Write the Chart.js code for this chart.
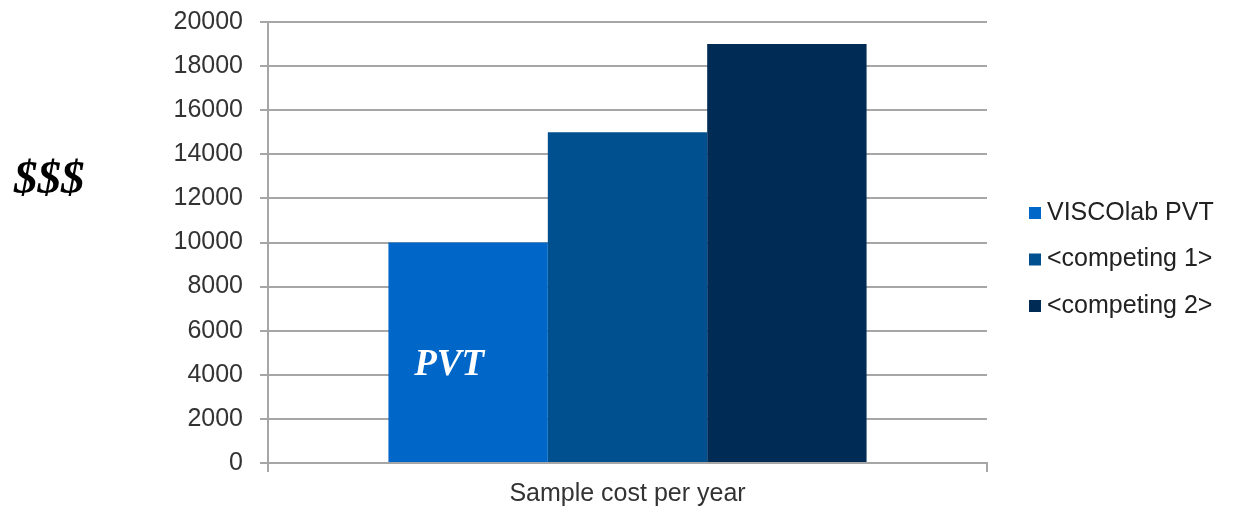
<!DOCTYPE html>
<html>
<head>
<meta charset="utf-8">
<script src="https://cdn.jsdelivr.net/npm/chart.js@4/dist/chart.umd.min.js"></script>
<style>
  html, body { margin: 0; padding: 0; background: #fff; }
  #wrap { width: 1237px; height: 506px; position: relative; }
</style>
</head>
<body>
<div id="wrap"><canvas id="c" width="1237" height="506"></canvas></div>
<script>
// Chart data
const categories = ['Sample cost per year'];
const seriesNames = ['VISCOlab PVT', '<competing 1>', '<competing 2>'];
const seriesValues = [[10000], [15000], [19000]];
const seriesColors = ['#0066c8', '#00508f', '#002b55'];
const yTicks = [0, 2000, 4000, 6000, 8000, 10000, 12000, 14000, 16000, 18000, 20000];

const axisFont = { family: '"Liberation Sans", Arial, sans-serif', size: 25, lineHeight: 1.1 };
const gridGray = '#a6a6a6';

// Legend on the right, side-panel annotations
const extras = {
  id: 'extras',
  afterDraw(chart) {
    const ctx = chart.ctx;
    ctx.save();
    // legend
    ctx.font = '25px "Liberation Sans", Arial, sans-serif';
    ctx.textBaseline = 'middle';
    ctx.textAlign = 'left';
    chart.data.datasets.forEach((ds, i) => {
      const y = 213 + i * 46.5;
      ctx.fillStyle = ds.backgroundColor;
      ctx.fillRect(1029, y - 6, 12, 12);
      ctx.fillStyle = '#222';
      ctx.fillText(ds.label, 1047, y);
    });
    // "$$$" beside the value axis
    ctx.font = 'italic bold 47px "Liberation Serif", "Times New Roman", serif';
    ctx.fillStyle = '#000';
    ctx.textBaseline = 'alphabetic';
    ctx.fillText('$$$', 14, 193);
    // label inside the first bar
    const bar = chart.getDatasetMeta(0).data[0];
    ctx.font = 'italic bold 37px "Liberation Serif", "Times New Roman", serif';
    ctx.fillStyle = '#fff';
    ctx.textAlign = 'center';
    ctx.fillText('PVT', bar.x - 19, 375);
    ctx.restore();
  }
};

new Chart(document.getElementById('c'), {
  type: 'bar',
  data: {
    labels: categories,
    datasets: seriesNames.map((name, i) => ({
      label: name,
      data: seriesValues[i],
      backgroundColor: seriesColors[i],
      borderWidth: 0,
      categoryPercentage: 0.665,
      barPercentage: 1.0
    }))
  },
  options: {
    responsive: false,
    animation: false,
    layout: { padding: { left: 0, right: 250, top: 22, bottom: 0 } },
    plugins: { legend: { display: false }, tooltip: { enabled: false } },
    scales: {
      x: {
        offset: true,
        afterFit(axis) { axis.height = 43; },
        grid: { offset: true, drawOnChartArea: false, color: gridGray, lineWidth: 2, tickLength: 9 },
        border: { color: gridGray, width: 2 },
        ticks: { color: '#333', font: axisFont, padding: 8 }
      },
      y: {
        min: 0,
        max: 20000,
        afterBuildTicks(axis) { axis.ticks = yTicks.map(v => ({ value: v })); },
        afterFit(axis) { axis.width = 268; axis.paddingTop = 0; axis.paddingBottom = 0; },
        grid: { color: gridGray, lineWidth: 2, tickLength: 8 },
        border: { color: gridGray, width: 2 },
        ticks: { color: '#333', font: axisFont, padding: 17, callback: v => String(v) }
      }
    }
  },
  plugins: [extras]
});
</script>
</body>
</html>
